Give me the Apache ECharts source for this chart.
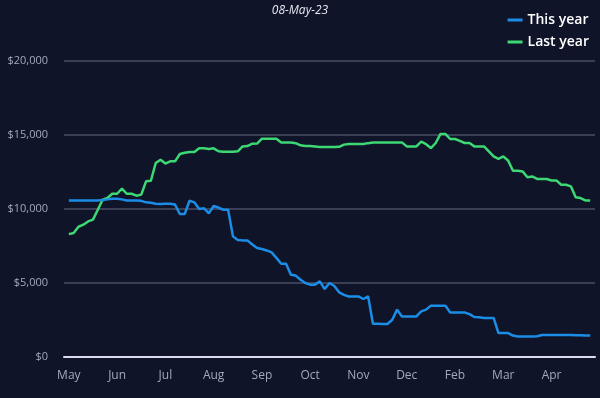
<!DOCTYPE html>
<html style="height: 100%">
<head>
<meta charset="utf-8">
<script src="https://cdn.jsdelivr.net/npm/echarts@6/dist/echarts.min.js"></script>
</head>
<body style="height: 100%; margin: 0; background: #0f1429">
<div id="container" style="width: 600px; height: 398px"></div>
<script type="text/javascript">
var months = ['May', 'Jun', 'Jul', 'Aug', 'Sep', 'Oct', 'Nov', 'Dec', 'Feb', 'Mar', 'Apr'];
var yTicks = [0, 5000, 10000, 15000, 20000];

// one leading blank slot, then ten slots per month label
var categories = [''];
for (var m = 0; m < months.length; m++) {
    for (var k = 0; k < 10; k++) {
        categories.push(months[m] + ' ' + k);
    }
}

var thisYear = [null,
    10580, 10580, 10580, 10580, 10580, 10580, 10580, 10600, 10650, 10700,
    10700, 10650, 10580, 10580, 10580, 10550, 10450, 10420, 10360, 10340,
    10350, 10350, 10300, 9660, 9660, 10560, 10450, 10000, 10050, 9700,
    10200, 10100, 9950, 9950, 8150, 7900, 7880, 7880, 7600, 7360,
    7300, 7200, 7070, 6700, 6300, 6300, 5560, 5500, 5220, 5000,
    4890, 4890, 5110, 4590, 5000, 4800, 4370, 4200, 4090, 4090,
    4090, 3920, 4100, 2250, 2250, 2230, 2230, 2520, 3200, 2740,
    2740, 2740, 2740, 3080, 3200, 3470, 3470, 3470, 3470, 3010,
    3010, 3010, 3010, 2900, 2700, 2680, 2640, 2640, 2640, 1620,
    1620, 1620, 1450, 1390, 1390, 1390, 1390, 1400, 1490, 1490,
    1490, 1490, 1490, 1480, 1480, 1470, 1470, 1460, 1450, null];

var lastYear = [null,
    8300, 8380, 8800, 8940, 9160, 9280, 9950, 10630, 10740, 11030,
    11030, 11370, 11030, 11030, 10900, 10970, 11870, 11910, 13110, 13330,
    13070, 13220, 13220, 13720, 13800, 13850, 13850, 14100, 14100, 14050,
    14100, 13900, 13870, 13870, 13870, 13900, 14230, 14250, 14410, 14420,
    14750, 14750, 14750, 14750, 14500, 14500, 14500, 14450, 14300, 14250,
    14250, 14220, 14190, 14190, 14190, 14190, 14200, 14350, 14390, 14390,
    14390, 14390, 14450, 14500, 14500, 14500, 14500, 14500, 14500, 14500,
    14230, 14230, 14230, 14550, 14380, 14120, 14460, 15070, 15070, 14730,
    14730, 14600, 14460, 14460, 14230, 14230, 14230, 13900, 13550, 13380,
    13550, 13280, 12590, 12590, 12540, 12150, 12200, 12030, 12030, 12030,
    11930, 11930, 11640, 11640, 11530, 10800, 10740, 10580, 10580, null];

var myChart = echarts.init(document.getElementById('container'));

var option = {
    backgroundColor: '#0f1429',
    title: {
        text: '08-May-23',
        left: 'center',
        top: 0,
        textStyle: {
            color: '#e6e8f0',
            fontSize: 12,
            fontStyle: 'italic',
            fontWeight: 'normal',
            fontFamily: 'Open Sans'
        }
    },
    legend: {
        orient: 'vertical',
        right: 6,
        top: 8,
        itemGap: 8,
        icon: 'rect',
        itemWidth: 15,
        itemHeight: 3,
        itemStyle: { borderWidth: 0 },
        textStyle: {
            color: '#ffffff',
            fontSize: 14,
            fontWeight: 600,
            fontFamily: 'Open Sans'
        },
        data: ['This year', 'Last year']
    },
    grid: {
        left: 64,
        right: 5,
        top: 61,
        bottom: 41,
        containLabel: false
    },
    xAxis: {
        type: 'category',
        data: categories,
        boundaryGap: false,
        axisLine: {
            show: true,
            lineStyle: { color: '#dcdcf0', width: 2 }
        },
        axisTick: { show: false },
        axisLabel: {
            interval: function (index) { return index % 10 === 1; },
            formatter: function (v) { return v.split(' ')[0]; },
            color: '#a3a8bd',
            fontSize: 12,
            fontFamily: 'Open Sans',
            margin: 13
        },
        splitLine: { show: false }
    },
    yAxis: {
        type: 'value',
        min: yTicks[0],
        max: yTicks[yTicks.length - 1],
        interval: 5000,
        axisLine: { show: false },
        axisTick: { show: false },
        axisLabel: {
            color: '#a3a8bd',
            fontSize: 11,
            fontFamily: 'Open Sans',
            margin: 16,
            formatter: function (v) { return '$' + v.toLocaleString('en-US'); }
        },
        splitLine: {
            lineStyle: { color: '#4a4e66', width: 1.5 }
        }
    },
    series: [
        {
            name: 'This year',
            type: 'line',
            data: thisYear,
            showSymbol: false,
            color: '#1b8de6',
            lineStyle: { width: 2.5, color: '#1b8de6' },
            z: 3
        },
        {
            name: 'Last year',
            type: 'line',
            data: lastYear,
            showSymbol: false,
            color: '#3dd873',
            lineStyle: { width: 2.5, color: '#3dd873' },
            z: 2
        }
    ],
    animation: false
};

myChart.setOption(option);
</script>
</body>
</html>
